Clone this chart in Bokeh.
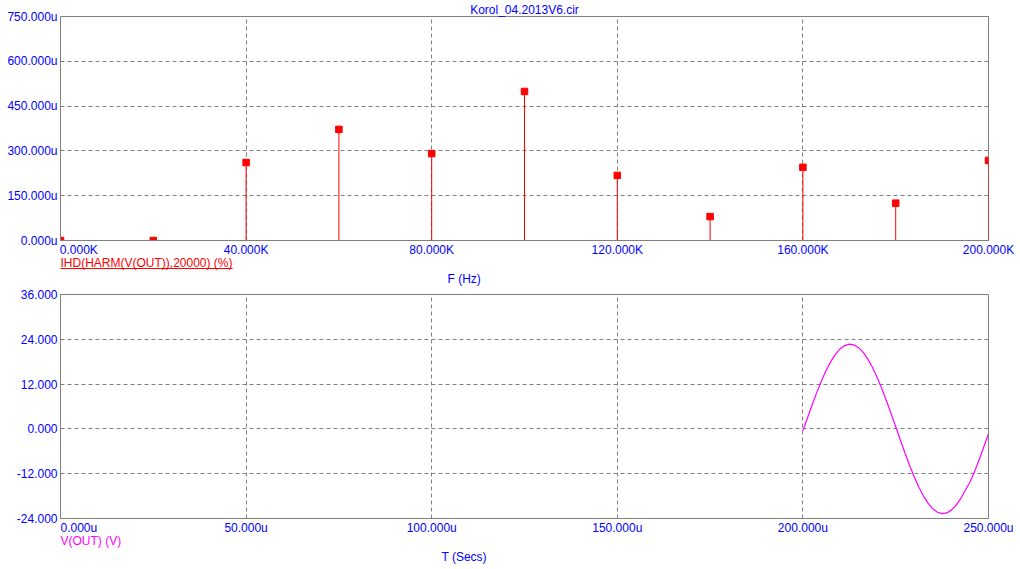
from bokeh.plotting import figure
from bokeh.models import Range1d, FixedTicker, PrintfTickFormatter, Title, LinearAxis
from bokeh.layouts import column
from bokeh.embed import file_html
from bokeh.resources import INLINE

# ---------------- data ----------------
freq_k = [0, 20, 40, 60, 80, 100, 120, 140, 160, 180, 200]          # kHz
ihd_u = [0, 0, 261, 372, 291, 499, 218, 80, 245, 125, 268]         # u%
freq_ticks = [0, 40, 80, 120, 160, 200]
ihd_ticks = [0, 150, 300, 450, 600, 750]

time_us = [200.0, 201.25, 202.5, 203.75, 205.0, 206.25, 207.5, 208.75, 210.0, 211.25,
           212.5, 213.75, 215.0, 216.25, 217.5, 218.75, 220.0, 221.25, 222.5, 223.75,
           225.0, 226.25, 227.5, 228.75, 230.0, 231.25, 232.5, 233.75, 235.0, 236.25,
           237.5, 238.75, 240.0, 241.25, 242.5, 243.75, 245.0, 246.25, 247.5, 248.75,
           250.0]
vout = [-0.5, 2.99, 6.47, 9.79, 12.88, 15.64, 18.02, 19.96, 21.41, 22.32,
        22.69, 22.50, 21.76, 20.48, 18.69, 16.45, 13.80, 10.81, 7.55, 4.11,
        0.57, -2.99, -6.47, -9.79, -12.88, -15.64, -18.02, -19.96, -21.41, -22.32,
        -22.69, -22.50, -21.76, -20.48, -18.69, -16.45, -14.3, -11.4, -8.2, -4.8,
        -1.3]
time_ticks = [0, 50, 100, 150, 200, 250]
volt_ticks = [-24, -12, 0, 12, 24, 36]

title_text = "Korol_04.2013V6.cir"
top_legend = "IHD(HARM(V(OUT)),20000) (%)"
top_xlabel = "F (Hz)"
bot_legend = "V(OUT) (V)"
bot_xlabel = "T (Secs)"

FONT = "Liberation Sans"
BLUE = "#0000FF"
GRAY = "#808080"
RED = "#FF0000"
MAG = "#FF00FF"
PAD = "\u00a0" * 11   # shifts the first tick label so it starts at the frame edge


def style(p, xticks, yticks, xfmt, yfmt, first_label):
    p.outline_line_color = GRAY
    p.outline_line_width = 1
    p.background_fill_color = "white"
    p.border_fill_color = "white"
    for ax in (p.xaxis[0], p.yaxis[0]):
        ax.axis_line_color = GRAY
        ax.major_tick_in = 0
        ax.major_tick_out = 0
        ax.minor_tick_in = 0
        ax.minor_tick_out = 0
        ax.major_label_text_color = BLUE
        ax.major_label_text_font = FONT
        ax.major_label_text_font_size = "12px"
    p.xaxis[0].ticker = FixedTicker(ticks=xticks)
    p.yaxis[0].ticker = FixedTicker(ticks=yticks)
    p.xaxis[0].formatter = PrintfTickFormatter(format=xfmt)
    p.yaxis[0].formatter = PrintfTickFormatter(format=yfmt)
    p.xaxis[0].major_label_overrides = {0: PAD + first_label}
    p.xaxis[0].major_label_standoff = 2
    p.yaxis[0].major_label_standoff = 3
    for g in (p.xgrid[0], p.ygrid[0]):
        g.grid_line_color = GRAY
        g.grid_line_dash = "4 3"
        g.grid_line_width = 1


def below_texts(p, legend, legend_color, underline_end, underline_color, xlabel, xlabel_offset):
    p.add_layout(Title(text=legend, align="left", vertical_align="top", offset=0, standoff=-7,
                       text_color=legend_color, text_font=FONT, text_font_size="12px",
                       text_font_style="normal"), "below")
    ul = LinearAxis(ticker=FixedTicker(ticks=[]), bounds=(0, underline_end),
                    axis_line_color=underline_color, axis_line_width=1,
                    major_tick_in=0, major_tick_out=0, minor_tick_in=0, minor_tick_out=0,
                    major_label_standoff=0)
    p.add_layout(ul, "below")
    p.add_layout(Title(text=xlabel, align="left", offset=xlabel_offset, standoff=2,
                       text_color=BLUE, text_font=FONT, text_font_size="12px",
                       text_font_style="normal"), "below")


# ---------------- top: harmonics ----------------
p1 = figure(frame_width=928, frame_height=224, output_backend="svg", toolbar_location=None,
            x_range=Range1d(0, 200), y_range=Range1d(0, 750),
            min_border_left=60, min_border_right=32, min_border_top=16, min_border_bottom=48)
p1.title.text = title_text
p1.title.align = "center"
p1.title.text_color = BLUE
p1.title.text_font = FONT
p1.title.text_font_size = "12px"
p1.title.text_font_style = "normal"
p1.title.standoff = 0
style(p1, freq_ticks, ihd_ticks, "%.3fK", "%.3fu", "0.000K")
p1.segment(x0=freq_k, y0=[0] * len(freq_k), x1=freq_k, y1=ihd_u, line_color=RED, line_width=1)
p1.scatter(x=freq_k, y=ihd_u, marker="square", size=6.5, fill_color=RED, line_color=RED)
below_texts(p1, top_legend, RED, 37.0, RED, top_xlabel, 387)

# ---------------- bottom: transient ----------------
p2 = figure(frame_width=928, frame_height=224, output_backend="svg", toolbar_location=None,
            x_range=Range1d(0, 250), y_range=Range1d(-24, 36),
            min_border_left=60, min_border_right=32, min_border_top=6, min_border_bottom=50)
style(p2, time_ticks, volt_ticks, "%.3fu", "%.3f", "0.000u")
p2.line(x=time_us, y=vout, line_color=MAG, line_width=1.2)
below_texts(p2, bot_legend, MAG, 0.01, None, bot_xlabel, 381)

layout = column(p1, p2)
open("out.html", "w").write(file_html(layout, INLINE))
